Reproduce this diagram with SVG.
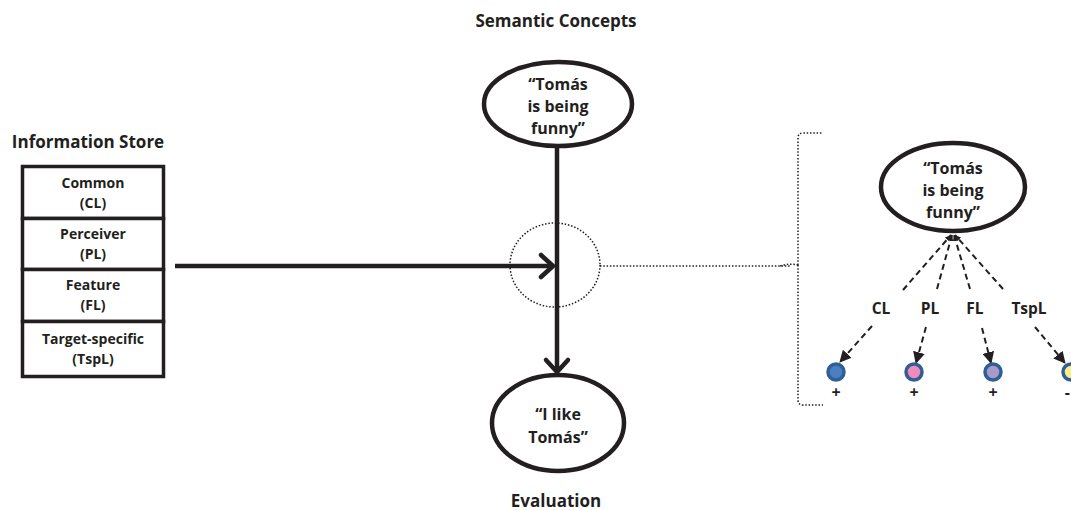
<svg xmlns="http://www.w3.org/2000/svg" width="1071" height="510" viewBox="0 0 1071 510">
<style>
text{font-family:"Open Sans","Liberation Sans",sans-serif;font-weight:700;fill:#231f20;text-anchor:middle}
.title{font-size:17px}
.box{fill:#fff;stroke:#231f20;stroke-width:3.5}
.bt{font-size:14px}
.el{fill:#fff;stroke:#231f20;stroke-width:4.5}
.et{font-size:16px}
.main{stroke:#231f20;stroke-width:4.5;fill:none}
.dot{stroke:#231f20;stroke-width:1.5;fill:none;stroke-dasharray:1.5 1.8}
.dash{stroke:#231f20;stroke-width:2;fill:none;stroke-dasharray:6 4}
.lab{font-size:15.5px}
.dotc{stroke:#2f5f96;stroke-width:3.5}
.plus{font-size:16px}
</style>
<defs>
<marker id="open" markerWidth="10" markerHeight="10" refX="8" refY="5" orient="auto" markerUnits="userSpaceOnUse" viewBox="0 0 10 10" overflow="visible">
<path d="M-4,-6 L8,5 L-4,16" fill="none" stroke="#231f20" stroke-width="4.5" stroke-linecap="round" stroke-linejoin="round"/>
</marker>
<marker id="tri" markerWidth="12" markerHeight="12" refX="11" refY="6" orient="auto" markerUnits="userSpaceOnUse" viewBox="0 0 12 12">
<path d="M0,0 L12,6 L0,12 Z" fill="#231f20"/>
</marker>
<marker id="tri2" markerWidth="6" markerHeight="6" refX="6" refY="3" orient="auto" markerUnits="userSpaceOnUse" viewBox="0 0 6 6">
<path d="M0,0 L6,3 L0,6 Z" fill="#231f20"/>
</marker>
</defs>

<text class="title" x="88" y="148">Information Store</text>
<text class="title" x="556" y="27">Semantic Concepts</text>
<text class="title" x="556" y="507">Evaluation</text>

<g id="store">
<g id="box-cl"><rect class="box" x="22.5" y="166.5" width="141" height="52"/><text class="bt" x="93" y="188">Common</text><text class="bt" x="93" y="208">(CL)</text></g>
<g id="box-pl"><rect class="box" x="22.5" y="218.5" width="141" height="51"/><text class="bt" x="93" y="239">Perceiver</text><text class="bt" x="93" y="259">(PL)</text></g>
<g id="box-fl"><rect class="box" x="22.5" y="269.5" width="141" height="52"/><text class="bt" x="93" y="290">Feature</text><text class="bt" x="93" y="310">(FL)</text></g>
<g id="box-tspl"><rect class="box" x="22.5" y="321.5" width="141" height="55"/><text class="bt" x="93" y="344">Target-specific</text><text class="bt" x="93" y="364">(TspL)</text></g>
</g>

<g id="connectors">
<line class="main" x1="557" y1="146" x2="557" y2="372" marker-end="url(#open)"/>
<line class="main" x1="175" y1="266" x2="553" y2="266" marker-end="url(#open)"/>
<ellipse class="dot" cx="555" cy="265" rx="45" ry="42"/>
<line class="dot" x1="600" y1="266" x2="790" y2="266"/>
<path class="dot" d="M798,265 Q790,263 780,266 M798,265 L798,138 Q798,133 803,133 L823,133 M798,265 L798,400 Q798,405 803,405 L823,405"/>
<line class="dash" x1="903" y1="290" x2="951" y2="235" marker-end="url(#tri2)"/>
<line class="dash" x1="937" y1="289" x2="952" y2="235" marker-end="url(#tri2)"/>
<line class="dash" x1="970" y1="289" x2="954" y2="235" marker-end="url(#tri2)"/>
<line class="dash" x1="1003" y1="289" x2="955" y2="235" marker-end="url(#tri2)"/>
<line class="dash" x1="872" y1="326" x2="840" y2="362" marker-end="url(#tri)"/>
<line class="dash" x1="926" y1="327" x2="916" y2="363" marker-end="url(#tri)"/>
<line class="dash" x1="982" y1="328" x2="991" y2="363" marker-end="url(#tri)"/>
<line class="dash" x1="1035" y1="327" x2="1065" y2="363" marker-end="url(#tri)"/>
</g>

<g id="node-funny">
<ellipse class="el" cx="558" cy="104" rx="74" ry="42"/>
<text class="et" x="558" y="90">“Tomás</text>
<text class="et" x="558" y="112">is being</text>
<text class="et" x="558" y="134">funny”</text>
</g>

<g id="node-like">
<ellipse class="el" cx="558" cy="423" rx="66" ry="48"/>
<text class="et" x="558" y="420">“I like</text>
<text class="et" x="558" y="443">Tomás”</text>
</g>

<g id="node-funny-detail">
<ellipse class="el" cx="953" cy="187" rx="72" ry="44"/>
<text class="et" x="953" y="174">“Tomás</text>
<text class="et" x="953" y="196">is being</text>
<text class="et" x="953" y="218">funny”</text>
</g>

<g id="labels">
<text class="lab" x="881" y="314">CL</text>
<text class="lab" x="930" y="314">PL</text>
<text class="lab" x="975" y="314">FL</text>
<text class="lab" x="1029" y="314">TspL</text>
</g>

<g id="dot-cl"><circle class="dotc" cx="836" cy="372" r="8" fill="#4a7fc1"/><text class="plus" x="836" y="398">+</text></g>
<g id="dot-pl"><circle class="dotc" cx="914" cy="372" r="8" fill="#ef8bbd"/><text class="plus" x="914" y="398">+</text></g>
<g id="dot-fl"><circle class="dotc" cx="993" cy="372" r="8" fill="#a89bc9"/><text class="plus" x="993" y="398">+</text></g>
<g id="dot-tspl"><circle class="dotc" cx="1071" cy="372" r="8" fill="#f5f08a"/><text class="plus" x="1070" y="398" style="text-anchor:end">-</text></g>
</svg>
